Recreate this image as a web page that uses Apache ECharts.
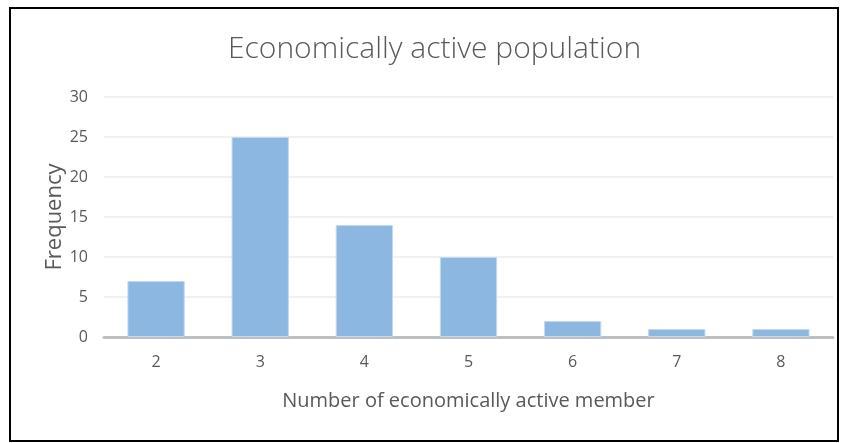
<!DOCTYPE html>
<html>
<head>
<meta charset="utf-8">
<script src="https://cdn.jsdelivr.net/npm/echarts@6/dist/echarts.min.js"></script>
<style>
  html, body { margin: 0; padding: 0; background: #fff; }
  #chart { width: 845px; height: 443px; }
</style>
</head>
<body>
<div id="chart"></div>
<script>
// Household survey: how many members are economically active
const titleText = 'Economically active population';
const categories = ['2', '3', '4', '5', '6', '7', '8'];
const frequency = [7, 25, 14, 10, 2, 1, 1];
const xAxisName = 'Number of economically active member';
const yAxisName = 'Frequency';

const chart = echarts.init(document.getElementById('chart'));
const textColor = '#595959';
const fontFamily = '"Open Sans", Lato, sans-serif';

chart.setOption({
  animation: false,
  textStyle: { fontFamily: fontFamily },
  title: {
    text: titleText,
    left: 223,
    top: 29,
    textStyle: { fontFamily: fontFamily, fontWeight: 300, fontSize: 30, color: textColor }
  },
  graphic: [{
    type: 'rect',
    shape: { x: 10, y: 8, width: 828, height: 433 },
    style: { fill: 'none', stroke: '#000', lineWidth: 2 },
    silent: true
  }],
  grid: { left: 104, right: 12, top: 97, bottom: 106 },
  xAxis: {
    type: 'category',
    data: categories,
    name: xAxisName,
    nameLocation: 'middle',
    nameGap: 54,
    nameMoveOverlap: false,
    nameTextStyle: { fontSize: 20, color: textColor, fontFamily: fontFamily },
    axisLine: { lineStyle: { color: '#bfbfbf', width: 3 } },
    axisTick: { show: false },
    axisLabel: { fontSize: 16, color: textColor, margin: 17 }
  },
  yAxis: {
    type: 'value',
    min: 0,
    max: 30,
    interval: 5,
    name: yAxisName,
    nameLocation: 'middle',
    nameGap: 38,
    nameMoveOverlap: false,
    nameTextStyle: { fontSize: 22, color: textColor, fontFamily: fontFamily },
    axisLine: { show: false },
    axisTick: { show: false },
    axisLabel: { fontSize: 16, color: textColor, margin: 16 },
    splitLine: { lineStyle: { color: '#ececec', width: 1.5 } }
  },
  series: [{
    type: 'bar',
    data: frequency,
    barWidth: '55%',
    itemStyle: { color: '#8cb7e1', borderColor: '#c3d9f0', borderWidth: 1 }
  }]
});
</script>
</body>
</html>
